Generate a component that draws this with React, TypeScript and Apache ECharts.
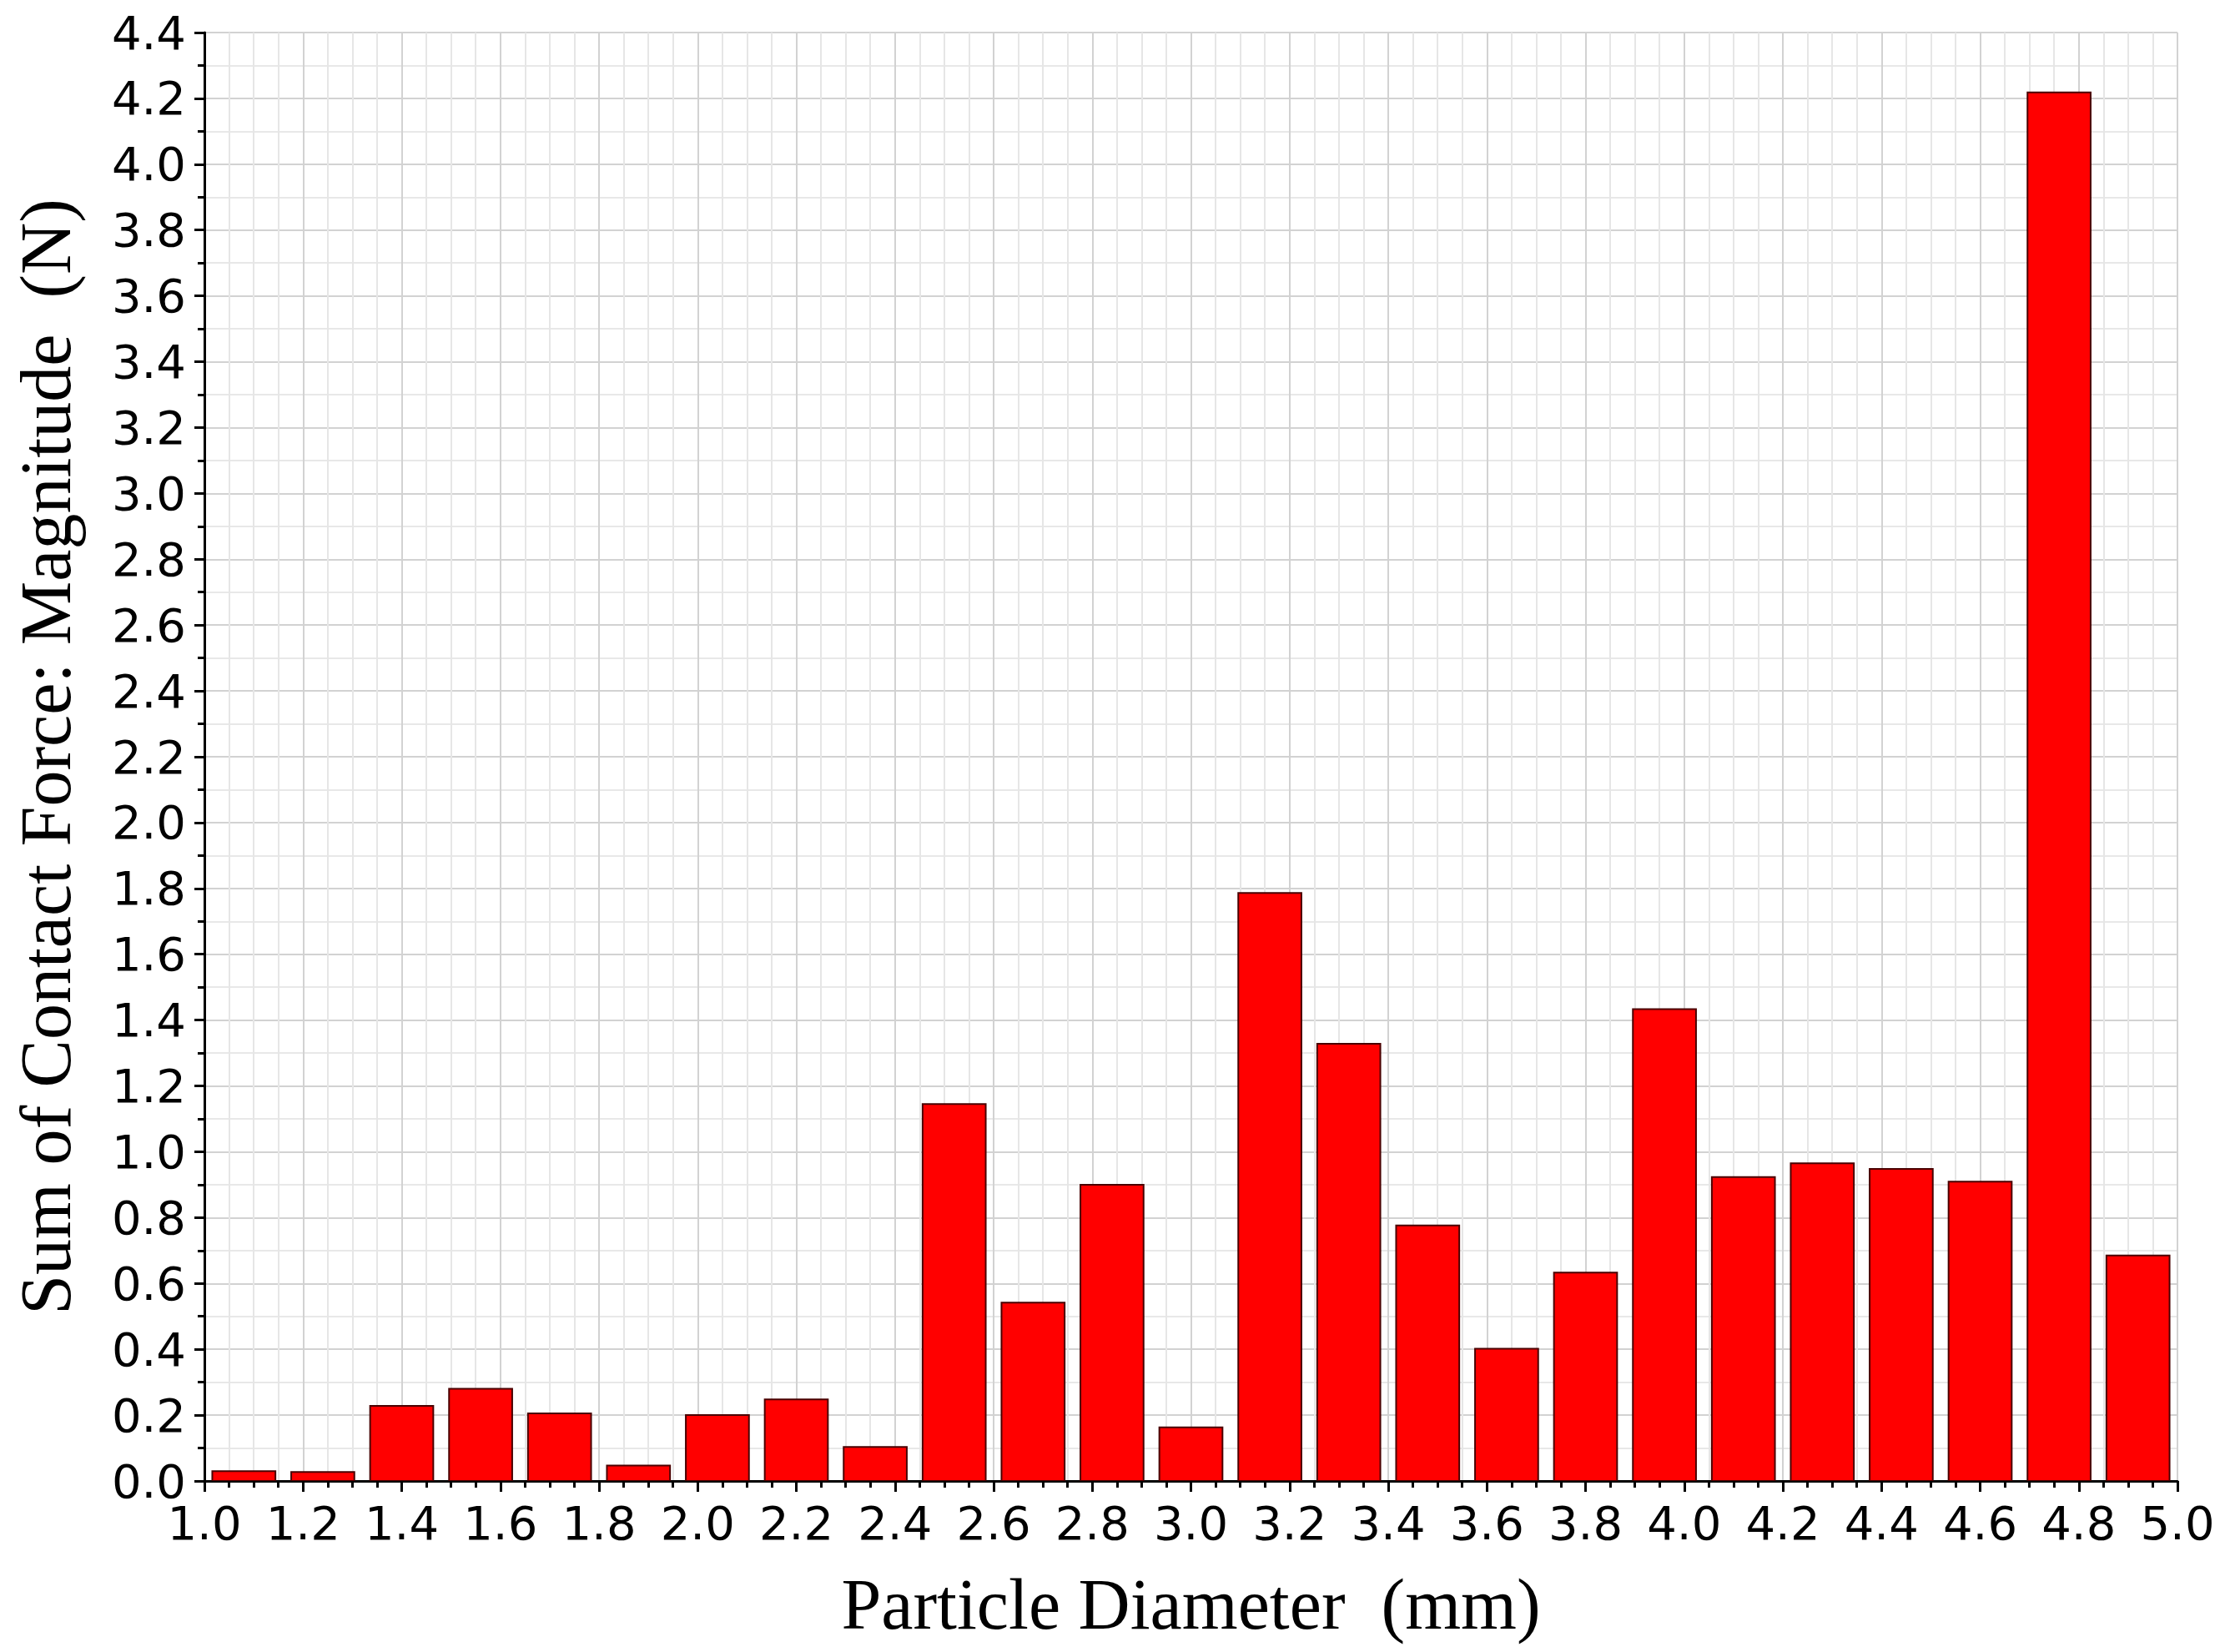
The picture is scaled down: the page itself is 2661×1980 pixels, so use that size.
import React, { useEffect, useRef } from "react";
import * as echarts from "echarts";

const binCenters = [
  1.08, 1.24, 1.4, 1.56, 1.72, 1.88, 2.04, 2.2, 2.36, 2.52, 2.68, 2.84, 3.0,
  3.16, 3.32, 3.48, 3.64, 3.8, 3.96, 4.12, 4.28, 4.44, 4.6, 4.76, 4.92,
];
const forceValues = [
  0.03, 0.027, 0.228, 0.28, 0.205, 0.047, 0.2, 0.248, 0.103, 1.145, 0.542,
  0.9, 0.163, 1.786, 1.328, 0.776, 0.402, 0.633, 1.433, 0.923, 0.965, 0.948,
  0.909, 4.218, 0.685,
];
const xTitle = "Particle Diameter  (mm)";
const yTitle = "Sum of Contact Force: Magnitude  (N)";

const BAR_HALF_WIDTH = 0.064;

export default function App() {
  const ref = useRef<HTMLDivElement>(null);
  useEffect(() => {
    if (!ref.current) return;
    const chart = echarts.init(ref.current, null, { renderer: "svg" });
    const tickFont = {
      fontFamily: "DejaVu Sans",
      fontSize: 56,
      color: "#000",
    };
    chart.setOption({
      animation: false,
      backgroundColor: "#fff",
      grid: { left: 245, right: 51, top: 39, bottom: 205, containLabel: false },
      xAxis: {
        type: "value",
        min: 1.0,
        max: 5.0,
        interval: 0.2,
        name: xTitle,
        nameLocation: "middle",
        nameGap: 105,
        nameTextStyle: {
          fontFamily: "Liberation Serif",
          fontSize: 86,
          color: "#000",
        },
        axisLine: { show: true, onZero: false, lineStyle: { color: "#000", width: 3 } },
        axisTick: { show: true, length: 13, lineStyle: { color: "#000", width: 3 } },
        minorTick: { show: true, splitNumber: 4, length: 8, lineStyle: { color: "#000", width: 3 } },
        axisLabel: { ...tickFont, margin: 22, formatter: (v: number) => v.toFixed(1) },
        splitLine: { show: true, lineStyle: { color: "#d2d2d2", width: 2 } },
        minorSplitLine: { show: true, lineStyle: { color: "#e6e6e6", width: 2 } },
      },
      yAxis: {
        type: "value",
        min: 0,
        max: 4.4,
        interval: 0.2,
        name: yTitle,
        nameLocation: "middle",
        nameGap: 147,
        nameTextStyle: {
          fontFamily: "Liberation Serif",
          fontSize: 86,
          color: "#000",
        },
        axisLine: { show: true, onZero: false, lineStyle: { color: "#000", width: 3 } },
        axisTick: { show: true, length: 12, lineStyle: { color: "#000", width: 3 } },
        minorTick: { show: true, splitNumber: 2, length: 8, lineStyle: { color: "#000", width: 3 } },
        axisLabel: { ...tickFont, margin: 22, formatter: (v: number) => v.toFixed(1) },
        splitLine: { show: true, lineStyle: { color: "#d2d2d2", width: 2 } },
        minorSplitLine: { show: true, lineStyle: { color: "#e8e8e8", width: 2 } },
      },
      series: [
        {
          type: "custom",
          clip: true,
          encode: { x: 0, y: 1 },
          data: binCenters.map((c, i) => [c, forceValues[i]]),
          renderItem: (params: any, api: any) => {
            const x = api.value(0);
            const y = api.value(1);
            const p0 = api.coord([x - BAR_HALF_WIDTH, y]);
            const p1 = api.coord([x + BAR_HALF_WIDTH, 0]);
            return {
              type: "rect",
              shape: {
                x: p0[0],
                y: p0[1],
                width: p1[0] - p0[0],
                height: p1[1] - p0[1],
              },
              style: { fill: "#ff0000", stroke: "#4a0000", lineWidth: 2 },
            };
          },
        },
      ],
    });
    return () => chart.dispose();
  }, []);
  return (
    <div
      ref={ref}
      style={{ position: "fixed", left: 0, top: 0, width: 2661, height: 1980, background: "#fff" }}
    />
  );
}
